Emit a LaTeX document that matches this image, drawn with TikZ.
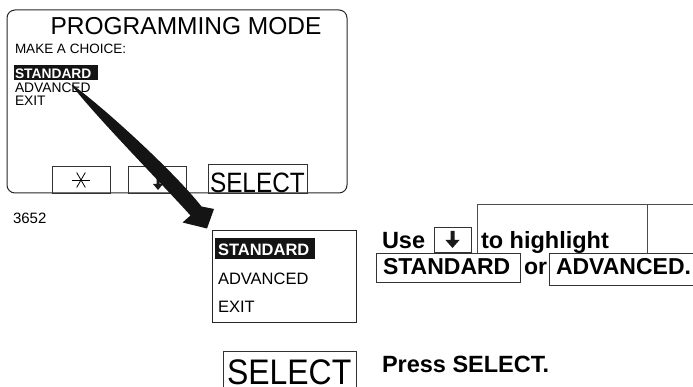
\documentclass[tikz,border=0pt]{standalone}
\usepackage{fontspec}
\setmainfont{Liberation Sans}
\usetikzlibrary{calc}
\newcommand\fsz[1]{\fontsize{#1}{#1}\selectfont}
\begin{document}
\begin{tikzpicture}[x=1pt,y=-1pt,
  frame/.style={draw=black!85, line width=1pt},
  keybox/.style={draw=black!80, line width=0.9pt},
  rule/.style={draw=black!70, line width=0.9pt},
  txt/.style={anchor=base west, inner sep=0pt, outer sep=0pt},
  ink/.style={fill=black!90, draw=none}]
\useasboundingbox (0,0) rectangle (693,387);

% ---- programming-mode screen ----
\draw[frame, rounded corners=8pt] (7,10) rectangle (347,193);
\node[anchor=base, inner sep=0pt] (title) at (186,35) {\fsz{24.5}PROGRAMMING MODE};
\node[txt] (choice) at (15,54) {\fsz{13.5}MAKE A CHOICE:};
\fill[black!92] (14,65) rectangle (98,80);
\node[txt, text=white] (std1) at (15,79) {\fsz{13.8}\bfseries STANDARD};
\node[txt] (adv1) at (15,93) {\fsz{13.8}ADVANCED};
\node[txt] (exit1) at (15,106) {\fsz{13.8}EXIT};

% soft keys
\draw[keybox] (52,166) rectangle (110,193);
\draw[keybox] (128,166) rectangle (186,193);
\draw[keybox] (208,164) rectangle (307,193);
\coordinate (ast) at (81,180);
\draw[line width=0.8pt] ($(ast)+(-9,0)$) -- ($(ast)+(9,0)$);
\draw[line width=0.8pt] ($(ast)+(-4.35,-7.5)$) -- ($(ast)+(4.35,7.5)$);
\draw[line width=0.8pt] ($(ast)+(4.35,-7.5)$) -- ($(ast)+(-4.35,7.5)$);
\fill[ink] (156.5,178) -- (159.5,178) -- (159.5,184) -- (163,184) -- (158,190)
  -- (153,184) -- (156.5,184) -- cycle;
\node[txt] (sel1) at (210,192.5) {\scalebox{0.87}[1]{\fsz{28}SELECT}};

\node[txt] (code) at (13,224) {\fsz{15}3652};

% ---- enlarged menu ----
\draw[frame] (212,231) rectangle (356,322);
\fill[black!92] (215,238) rectangle (315,259);
\node[txt, text=white] (std2) at (218,256) {\fsz{16.5}\bfseries STANDARD};
\node[txt] (adv2) at (218,284) {\fsz{16.5}ADVANCED};
\node[txt] (exit2) at (218,312) {\fsz{16.5}EXIT};

% ---- instructions ----
\draw[rule] (477,253) -- (477,204) -- (693,204);
\draw[rule] (647,204) -- (647,253);
\node[txt] (use) at (382,249) {\fsz{23.5}\bfseries Use};
\draw[keybox] (434,227) rectangle (471,252);
\fill[ink] (450.5,231) -- (454.5,231) -- (454.5,240) -- (459.5,240) -- (452.5,248)
  -- (445.5,240) -- (450.5,240) -- cycle;
\node[txt] (hl) at (481,249) {\fsz{23.5}\bfseries to highlight};
\draw[keybox] (376,253) rectangle (520,282);
\node[txt] (std3) at (383,275) {\fsz{23}\bfseries STANDARD};
\node[txt] (or) at (524,275) {\fsz{23}\bfseries or};
\draw[keybox] (694,253) -| (549,285) -- (694,285);
\node[txt] (adv3) at (556,275) {\fsz{23}\bfseries ADVANCED.};

\draw[keybox] (223,388) |- (356,351) -- (356,388);
\node[txt] (sel2) at (227,384) {\scalebox{0.9}[1]{\fsz{35.5}SELECT}};
\node[txt] (press) at (382,372) {\fsz{23.5}\bfseries Press SELECT.};

% ---- tapered curved arrow from the menu to the enlarged view ----
\fill[black!92] (72.3,84.6) .. controls (108.5,111.4) and (176.5,174.5) .. (201.5,206.5)
  -- (214,209) -- (207,228.5) -- (182.5,222.5) -- (190.5,215.5)
  .. controls (163.5,185.5) and (99.5,120.6) .. (71.7,85.4) -- cycle;
\end{tikzpicture}
\end{document}
